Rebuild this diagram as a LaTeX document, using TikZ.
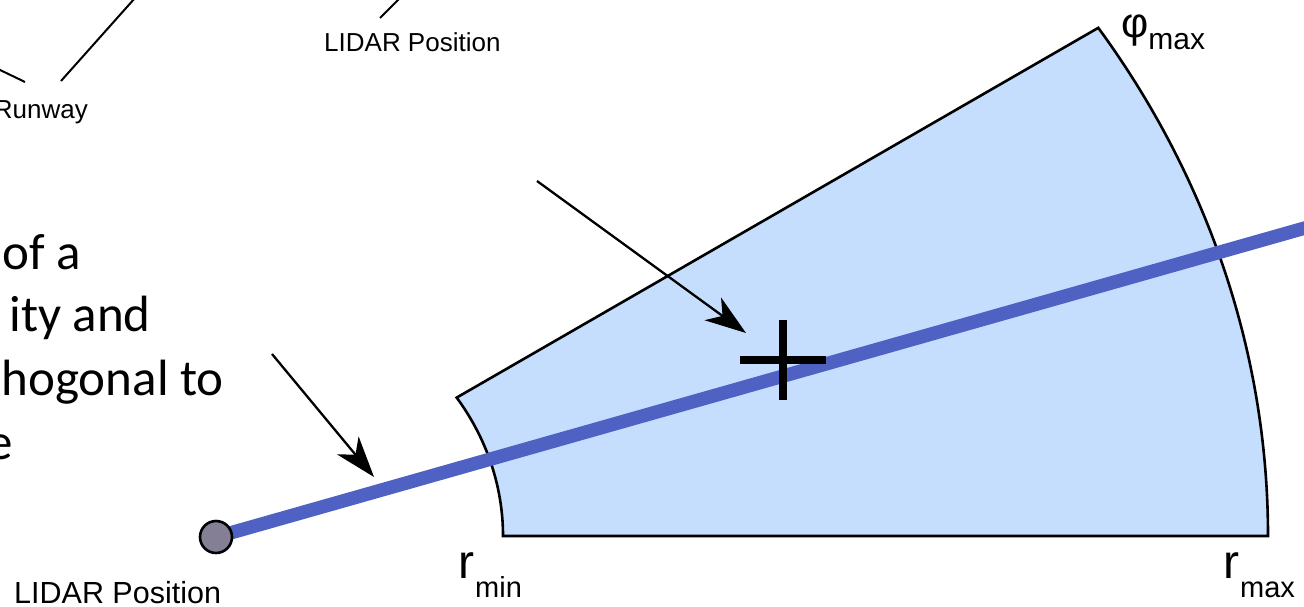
\documentclass[tikz,border=0pt]{standalone}
\usepackage{fontspec}
\setmainfont{Liberation Sans}
\newfontfamily\calfont{Carlito}
\usetikzlibrary{arrows.meta}
\definecolor{sectorfill}{HTML}{C5DEFD}
\definecolor{beamblue}{HTML}{4F62C4}
\definecolor{lidargray}{HTML}{857F96}
\begin{document}
\begin{tikzpicture}[x=1pt,y=-1pt,
  lab/.style={font=\fontsize{26}{26}\selectfont, inner sep=0pt},
  labbig/.style={font=\fontsize{30.5}{30.5}\selectfont, inner sep=0pt},
  symlab/.style={font=\fontsize{48}{48}\selectfont, inner sep=0pt, anchor=base west},
  bigtxt/.style={font=\calfont\fontsize{51}{51}\selectfont, inner sep=0pt, anchor=base east},
  ptr/.style={line width=2.3pt, -{Stealth[length=41pt,width=28pt,inset=12pt]}},
  leader/.style={line width=2pt},
  sector/.style={draw=black, line width=2.6pt, fill=sectorfill, line join=miter},
  beam/.style={draw=beamblue, line width=13.5pt},
  crossbar/.style={line width=8pt}
]
\useasboundingbox (0,0) rectangle (1304,607);
\begin{scope}
\clip (0,0) rectangle (1304,607);
% sector
\coordinate (lidar) at (216,537);
\path[sector] (503,536) -- (1268,536)
  arc[start angle=0, end angle=-33, x radius=1052, y radius=933]
  -- (456.7,397.6)
  arc[start angle=-33, end angle=0, x radius=287, y radius=254] -- cycle;
% beam
\coordinate (beamend) at (1312,226);
\draw[beam] (lidar) -- (beamend);
\node[circle, draw=black, line width=2.6pt, fill=lidargray, minimum size=32pt, inner sep=0pt] (lidarnode) at (lidar) {};
% cross
\coordinate (cross) at (783,360);
\draw[crossbar] ([xshift=-43pt]cross) -- ([xshift=43pt]cross);
\draw[crossbar] ([yshift=40pt]cross) -- ([yshift=-40pt]cross);
% pointer arrows
\coordinate (a1s) at (537,181);
\coordinate (a1e) at (746,333);
\draw[ptr] (a1s) -- (a1e);
\coordinate (a2s) at (272,354);
\coordinate (a2e) at (374,477);
\draw[ptr] (a2s) -- (a2e);
% leaders at top
\coordinate (l1a) at (61,81);
\coordinate (l1b) at (135,-2);
\draw[leader] (l1a) -- (l1b);
\coordinate (l2a) at (-2,69);
\coordinate (l2b) at (25,82);
\draw[leader] (l2a) -- (l2b);
\coordinate (l3a) at (380,18);
\coordinate (l3b) at (400,-2);
\draw[leader] (l3a) -- (l3b);
% labels
\node[lab, anchor=base east] (runway) at (88,119) {Runway};
\node[lab, anchor=base west] (lidartop) at (324,52) {LIDAR Position};
\node[labbig, anchor=base west] (lidarbot) at (14,603) {LIDAR Position};
\node[symlab] (rmin) at (458,578) {r\kern1pt\raisebox{-19pt}{\fontsize{29}{29}\selectfont min}};
\node[symlab] (rmax) at (1223,578) {r\kern1pt\raisebox{-19pt}{\fontsize{29}{29}\selectfont max}};
\node[inner sep=0pt, anchor=base west, font=\fontsize{42}{42}\selectfont] (phimax) at (1121,38) {φ\raisebox{-12pt}{\fontsize{30}{30}\selectfont max}};
% body text
\node[bigtxt] (t1) at (81,269) {of a};
\node[bigtxt] (t2) at (151,331) {ity and};
\node[bigtxt] (t3) at (224,395) {hogonal to};
\node[bigtxt] (t4) at (13,459) {e};
\end{scope}
\end{tikzpicture}
\end{document}
